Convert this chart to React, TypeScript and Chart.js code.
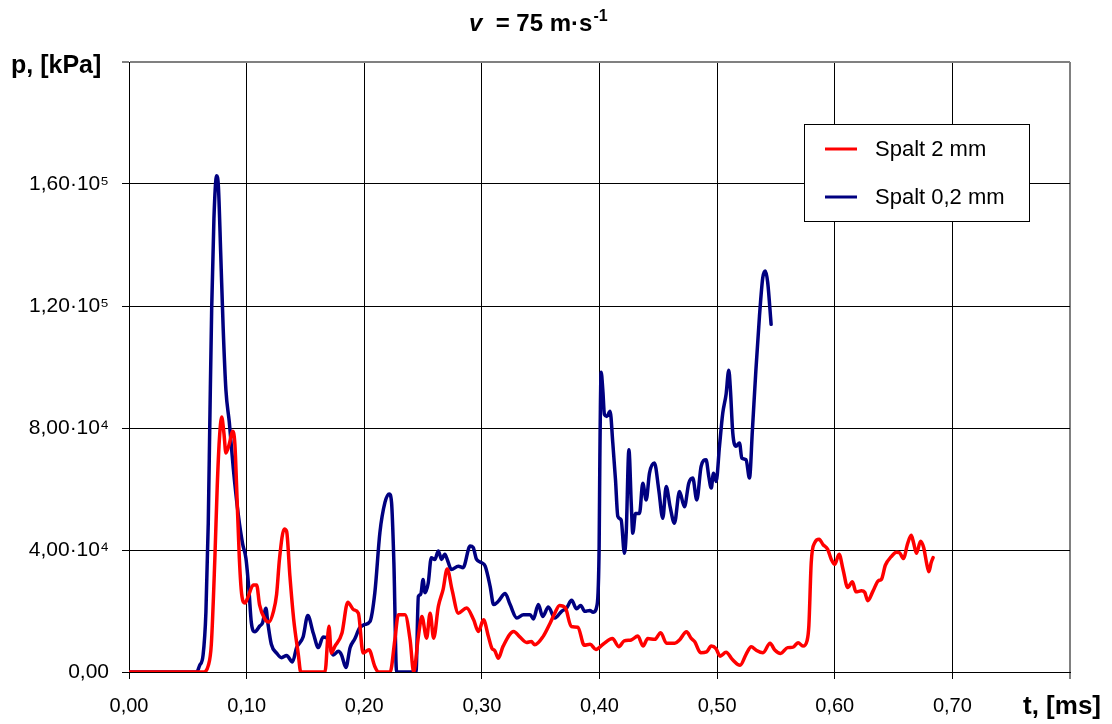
import React, { useEffect, useRef } from "react";
import { Chart, registerables } from "chart.js";

Chart.register(...registerables);

// ---- Data: Spalt 2 mm (red) ----
const redT = [
  0, 0.063, 0.0674, 0.07, 0.073, 0.075, 0.0768, 0.0788, 0.0807, 0.0824, 0.0853, 0.088, 0.09, 0.0915,
  0.0938, 0.0958, 0.0986, 0.101, 0.1057, 0.1085, 0.111, 0.1156, 0.119, 0.1227, 0.1255, 0.128, 0.132,
  0.134, 0.1368, 0.14, 0.144, 0.146, 0.1666, 0.17, 0.172, 0.175, 0.181, 0.186, 0.191, 0.195, 0.199,
  0.204, 0.209, 0.212, 0.222, 0.226, 0.229, 0.2346, 0.239, 0.242, 0.246, 0.249, 0.253, 0.256, 0.259,
  0.263, 0.267, 0.2705, 0.2746, 0.28, 0.287, 0.293, 0.297, 0.3014, 0.3056, 0.3085, 0.311, 0.314, 0.318,
  0.327, 0.332, 0.338, 0.342, 0.345, 0.352, 0.358, 0.362, 0.366, 0.371, 0.376, 0.3816, 0.387, 0.392,
  0.397, 0.403, 0.411, 0.4164, 0.421, 0.427, 0.4326, 0.437, 0.441, 0.447, 0.452, 0.457, 0.464, 0.468,
  0.474, 0.478, 0.481, 0.486, 0.491, 0.495, 0.499, 0.5025, 0.5076, 0.513, 0.5195, 0.5246, 0.529, 0.533,
  0.539, 0.545, 0.549, 0.554, 0.56, 0.5646, 0.5688, 0.573, 0.5765, 0.578, 0.58, 0.583, 0.5867, 0.59,
  0.594, 0.597, 0.6, 0.6037, 0.607, 0.611, 0.615, 0.618, 0.6227, 0.6255, 0.628, 0.6326, 0.637, 0.6397,
  0.643, 0.648, 0.6524, 0.655, 0.6586, 0.6615, 0.665, 0.667, 0.6694, 0.673, 0.6756, 0.678, 0.68, 0.682,
  0.6836,
];
const redP = [
  0, 0, 2100, 9100, 37300, 60700, 76000, 83600, 78300, 71800, 74800, 78900, 74800, 60700,
  37300, 25500, 22600, 24400, 28500, 28500, 22000, 17300, 16400, 19700, 25500, 37300, 46900,
  46100, 31400, 17300, 5600, 0, 0, 15000, 6200, 8400, 12700, 22900, 20400, 19300, 6200,
  7300, 1800, 0, 0, 10500, 18800, 18800, 10500, 0, 11600, 18200, 11100, 19300, 11100,
  21500, 27000, 33800, 27000, 19300, 21000, 17100, 13300, 17100, 11600, 7800, 7000, 4500, 8400,
  13300, 11600, 9700, 10000, 8900, 11600, 16000, 19300, 21800, 21000, 14900, 14700, 8800, 9100,
  7400, 9100, 11000, 8300, 10200, 10500, 11800, 8500, 11000, 10700, 12900, 9400, 9400, 10500,
  13200, 11000, 9900, 6300, 6600, 8500, 7700, 5200, 6500, 4100, 2200, 5800, 8300, 7200,
  6300, 9400, 7200, 6100, 8000, 8150, 9600, 8500, 10300, 15200, 35900, 42400, 43500, 41800,
  40200, 37000, 35300, 38600, 33700, 27700, 29600, 26300, 26600, 26100, 23400, 26600, 29900, 30400,
  35000, 37800, 39300, 39100, 37200, 41500, 44800, 42400, 38900, 42900, 40800, 35900, 32900, 35900,
  37500,
];

// ---- Data: Spalt 0,2 mm (blue) ----
const blueT = [
  0, 0.0575, 0.06, 0.063, 0.0654, 0.0674, 0.0688, 0.0703, 0.0722, 0.0745, 0.076, 0.078, 0.08, 0.0824,
  0.0853, 0.0887, 0.093, 0.0966, 0.0994, 0.102, 0.104, 0.107, 0.111, 0.1136, 0.1164, 0.118, 0.121,
  0.1255, 0.1297, 0.134, 0.139, 0.1425, 0.148, 0.152, 0.1567, 0.161, 0.165, 0.169, 0.1737, 0.178,
  0.1807, 0.1844, 0.188, 0.192, 0.196, 0.2006, 0.2048, 0.209, 0.2133, 0.2176, 0.2212, 0.2232, 0.2252,
  0.2275, 0.244, 0.246, 0.248, 0.25, 0.2516, 0.2544, 0.257, 0.26, 0.263, 0.2657, 0.2685, 0.271, 0.274,
  0.28, 0.284, 0.29, 0.2926, 0.2955, 0.3, 0.3028, 0.307, 0.31, 0.314, 0.3198, 0.324, 0.3297, 0.3353,
  0.341, 0.3438, 0.348, 0.3517, 0.3565, 0.362, 0.3678, 0.372, 0.3763, 0.3805, 0.384, 0.3876, 0.3918,
  0.3946, 0.398, 0.3997, 0.4003, 0.4014, 0.4028, 0.4042, 0.4062, 0.409, 0.4113, 0.4136, 0.4156, 0.4184,
  0.4212, 0.4227, 0.425, 0.427, 0.4283, 0.4306, 0.434, 0.4368, 0.4397, 0.4425, 0.4467, 0.4504, 0.4538,
  0.4567, 0.46, 0.4637, 0.468, 0.4722, 0.4759, 0.4793, 0.4827, 0.4864, 0.4906, 0.4929, 0.495, 0.4969,
  0.4992, 0.502, 0.5048, 0.5076, 0.5099, 0.5113, 0.5133, 0.516, 0.519, 0.521, 0.5246, 0.5275, 0.53,
  0.533, 0.536, 0.5388, 0.541, 0.543, 0.5459,
];
const blueP = [
  0, 0, 2100, 5600, 19700, 49000, 84200, 119300, 148600, 162700, 159200, 136900, 113400, 92400,
  81800, 66600, 51300, 42000, 37300, 26700, 16200, 13200, 15000, 16200, 20900, 16200, 9100,
  6200, 4700, 5400, 3300, 8000, 11500, 18500, 12700, 8000, 11500, 10900, 5600, 6800,
  5600, 1500, 8000, 10900, 14400, 15600, 16500, 26000, 45700, 55600, 58400, 55600, 35800,
  0, 0, 24800, 25400, 30300, 26000, 29200, 37500, 36900, 39700, 36900, 38600, 36400, 33600,
  34700, 34200, 41300, 40800, 36900, 35800, 34700, 28100, 22100, 23200, 25700, 22100, 17700, 18800,
  18800, 17400, 22100, 18200, 21300, 17700, 19900, 21000, 23500, 20700, 21800, 19900, 20200,
  19600, 22100, 41300, 70000, 98300, 92600, 84400, 83800, 85500, 75100, 63000, 51000, 49900,
  38900, 45500, 72900, 55300, 45500, 52000, 52000, 61900, 56400, 65200, 68500, 59700, 50400,
  60800, 54200, 48800, 59200, 54200, 61900, 63600, 56400, 67400, 69600, 64100, 60300, 65200,
  62500, 74000, 84900, 91000, 98900, 92600, 78400, 74000, 75100, 70100, 69600, 63600, 79400,
  99200, 116700, 129300, 131500, 127700, 114000,
];

// ---- Axis ticks ----
const yTickValues = [0, 40000, 80000, 120000, 160000, 200000];
const yTickLabels = ["0,00", "4,00·10⁴", "8,00·10⁴", "1,20·10⁵", "1,60·10⁵", ""];
const xTickValues = [0, 0.1, 0.2, 0.3, 0.4, 0.5, 0.6, 0.7, 0.8];
const xTickLabels = ["0,00", "0,10", "0,20", "0,30", "0,40", "0,50", "0,60", "0,70", ""];

const seriesLabels = ["Spalt 2 mm", "Spalt 0,2 mm"];
const seriesColors = ["#ff0000", "#000080"];

const FONT = "'Liberation Sans', Arial, sans-serif";

function findLabel(values: number[], labels: string[], v: number) {
  for (let i = 0; i < values.length; i++) {
    if (Math.abs(values[i] - v) < 1e-9 * Math.max(1, Math.abs(v))) return labels[i];
  }
  return "";
}

const decorPlugin = {
  id: "decor",
  afterDraw(chart: any) {
    const ctx = chart.ctx as CanvasRenderingContext2D;
    ctx.save();
    ctx.fillStyle = "#000";
    ctx.textBaseline = "alphabetic";
    ctx.textAlign = "left";

    // Title: v = 75 m·s^-1
    let x = 469;
    const base = 31;
    ctx.font = `italic bold 24px ${FONT}`;
    ctx.fillText("v", x, base);
    x += ctx.measureText("v").width;
    ctx.font = `bold 24px ${FONT}`;
    const mid = "  = 75 m·s";
    ctx.fillText(mid, x, base);
    x += ctx.measureText(mid).width;
    ctx.font = `bold 16px ${FONT}`;
    ctx.fillText("-1", x + 1, base - 10);

    // Axis titles
    ctx.font = `bold 25px ${FONT}`;
    ctx.fillText("p, [kPa]", 11, 73);
    ctx.font = `bold 26px ${FONT}`;
    ctx.fillText("t, [ms]", 1023, 714);

    // Legend
    const bx = 804.5, by = 124.5, bw = 225, bh = 97;
    ctx.fillStyle = "#fff";
    ctx.fillRect(bx, by, bw, bh);
    ctx.strokeStyle = "#000";
    ctx.lineWidth = 1;
    ctx.strokeRect(bx, by, bw, bh);
    const rows = [149, 197];
    chart.data.datasets.forEach((ds: any, i: number) => {
      ctx.strokeStyle = ds.borderColor;
      ctx.lineWidth = 3;
      ctx.beginPath();
      ctx.moveTo(825, rows[i]);
      ctx.lineTo(857, rows[i]);
      ctx.stroke();
      ctx.fillStyle = "#000";
      ctx.font = `22px ${FONT}`;
      ctx.textBaseline = "middle";
      ctx.fillText(ds.label, 875, rows[i] + 1);
    });
    ctx.restore();
  },
};

export default function App() {
  const ref = useRef<HTMLCanvasElement | null>(null);

  useEffect(() => {
    if (!ref.current) return;
    const redData = redT.map((t, i) => ({ x: t, y: redP[i] }));
    const blueData = blueT.map((t, i) => ({ x: t, y: blueP[i] }));
    const isEdge = (v: number, max: number) => Math.abs(v - max) < 1e-9 * Math.max(1, max);

    const chart = new Chart(ref.current, {
      type: "line",
      data: {
        datasets: [
          {
            label: seriesLabels[0],
            data: redData,
            borderColor: seriesColors[0],
            backgroundColor: seriesColors[0],
            borderWidth: 3.5,
            pointRadius: 0,
            cubicInterpolationMode: "monotone",
            borderJoinStyle: "round",
            borderCapStyle: "round",
          },
          {
            label: seriesLabels[1],
            data: blueData,
            borderColor: seriesColors[1],
            backgroundColor: seriesColors[1],
            borderWidth: 3.5,
            pointRadius: 0,
            cubicInterpolationMode: "monotone",
            borderJoinStyle: "round",
            borderCapStyle: "round",
          },
        ],
      },
      options: {
        animation: false,
        responsive: false,
        devicePixelRatio: 1,
        parsing: false,
        layout: { padding: { left: 8, top: 62, right: 42, bottom: 0 } },
        plugins: {
          legend: { display: false },
          title: { display: false },
          tooltip: { enabled: false },
        },
        scales: {
          x: {
            type: "linear",
            min: 0,
            max: 0.8,
            afterBuildTicks: (s: any) => {
              s.ticks = xTickValues.map((v) => ({ value: v }));
            },
            afterFit: (s: any) => {
              s.height = 52;
            },
            ticks: {
              autoSkip: false,
              maxRotation: 0,
              color: "#000",
              padding: 15,
              font: { family: FONT, size: 20 },
              callback: (v: any) => findLabel(xTickValues, xTickLabels, Number(v)),
            },
            grid: {
              color: (c: any) => (c.tick && isEdge(c.tick.value, 0.8) ? "#808080" : "#000"),
              lineWidth: (c: any) => (c.tick && isEdge(c.tick.value, 0.8) ? 2 : 1),
              tickColor: "#000",
              tickWidth: 1,
              tickLength: 7,
            },
            border: { color: "#000", width: 1 },
          },
          y: {
            type: "linear",
            min: 0,
            max: 200000,
            afterBuildTicks: (s: any) => {
              s.ticks = yTickValues.map((v) => ({ value: v }));
            },
            afterFit: (s: any) => {
              s.width = 121;
            },
            ticks: {
              color: "#000",
              padding: 13,
              font: { family: FONT, size: 21 },
              callback: (v: any) => findLabel(yTickValues, yTickLabels, Number(v)),
            },
            grid: {
              color: (c: any) => (c.tick && isEdge(c.tick.value, 200000) ? "#808080" : "#000"),
              lineWidth: (c: any) => (c.tick && isEdge(c.tick.value, 200000) ? 2 : 1),
              tickColor: "#000",
              tickWidth: 1,
              tickLength: 7,
            },
            border: { color: "#000", width: 1 },
          },
        },
      },
      plugins: [decorPlugin],
    } as any);

    return () => chart.destroy();
  }, []);

  return (
    <div style={{ position: "absolute", left: 0, top: 0, width: 1112, height: 724, background: "#fff" }}>
      <canvas ref={ref} width={1112} height={724} style={{ display: "block" }} />
    </div>
  );
}
